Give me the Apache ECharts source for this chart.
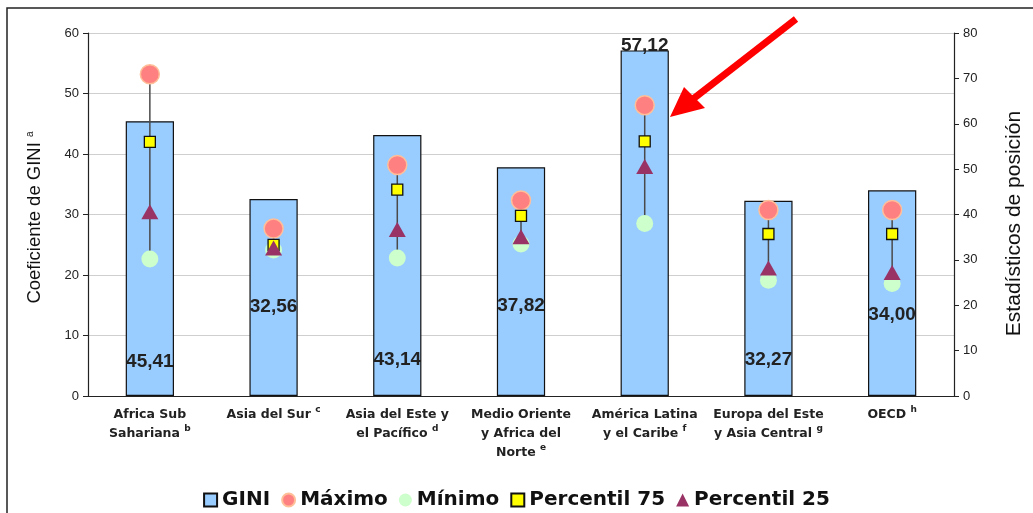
<!DOCTYPE html>
<html>
	<head>
		<meta charset="utf-8" />
		<title>Coeficiente de GINI por región</title>
		<style type="text/css">
			body,
			html,
			#main {
				width: 100%;
				height: 100%;
				overflow: hidden;
				margin: 0;
				background: #fff;
			}
		</style>
	</head>
	<body>
		<div id="main"></div>
		<script src="https://cdn.jsdelivr.net/npm/echarts@6/dist/echarts.min.js"></script>
		<script>
			// regiones (texto del eje x, con la letra de la nota)
			var regiones = [
				'Africa Sub\nSahariana {sup|b}',
				'Asia del Sur {sup|c}',
				'Asia del Este y\nel Pacífico {sup|d}',
				'Medio Oriente\ny Africa del\nNorte {sup|e}',
				'América Latina\ny el Caribe {sup|f}',
				'Europa del Este\ny Asia Central {sup|g}',
				'OECD {sup|h}'
			];
			// coeficiente de GINI (eje izquierdo)
			var gini = [45.41, 32.56, 43.14, 37.82, 57.12, 32.27, 34.0];
			// estadísticos de posición (eje derecho)
			var maximo = [70.9, 36.9, 50.9, 43.1, 64.1, 41.0, 41.0];
			var minimo = [30.2, 32.2, 30.4, 33.5, 38.0, 25.5, 24.8];
			var percentil75 = [56.0, 33.3, 45.5, 39.7, 56.1, 35.7, 35.7];
			var percentil25 = [40.6, 32.6, 36.7, 35.1, 50.6, 28.2, 27.2];
			var ticksIzq = [0, 60, 10];
			var ticksDer = [0, 80, 10];

			// donde va cada etiqueta de la barra (distancia desde abajo, o arriba)
			var etiquetaPos = [
				{ position: 'insideBottom', distance: 25 },
				{ position: 'insideBottom', distance: 80 },
				{ position: 'insideBottom', distance: 27 },
				{ position: 'insideBottom', distance: 81 },
				{ position: 'top', distance: -5 },
				{ position: 'insideBottom', distance: 27 },
				{ position: 'insideBottom', distance: 72 }
			];

			var fuente = 'Liberation Sans, Arial, sans-serif';
			var fuenteAncha = 'DejaVu Sans, Verdana, sans-serif';
			var myChart = echarts.init(document.getElementById('main'));

			var option = {
				animation: false,
				textStyle: { fontFamily: fuente },
				grid: { left: 88, right: 78, top: 33, bottom: 117 },
				legend: {
					top: 485,
					left: 'center',
					itemWidth: 13,
					itemHeight: 13,
					itemGap: 11,
					textStyle: { fontSize: 20, fontWeight: 'bold', color: '#111', fontFamily: fuenteAncha },
					data: [
						{ name: 'GINI', icon: 'rect' },
						{ name: 'Máximo', icon: 'circle' },
						{ name: 'Mínimo', icon: 'circle' },
						{ name: 'Percentil 75', icon: 'rect' },
						{ name: 'Percentil 25', icon: 'triangle' }
					]
				},
				xAxis: {
					type: 'category',
					data: regiones,
					axisLine: { lineStyle: { color: '#222', width: 1.2 } },
					axisTick: { length: 6, lineStyle: { color: '#222' } },
					axisLabel: {
						interval: 0,
						margin: 9,
						fontSize: 12.5,
						fontWeight: 'bold',
						fontFamily: fuenteAncha,
						color: '#222',
						lineHeight: 19,
						rich: {
							sup: { fontSize: 9, fontWeight: 'bold', fontFamily: fuenteAncha, verticalAlign: 'top', padding: [0, 0, 8, 0] }
						}
					}
				},
				yAxis: [
					{
						type: 'value',
						min: ticksIzq[0],
						max: ticksIzq[1],
						interval: ticksIzq[2],
						name: 'Coeficiente de GINI {sup|a}',
						nameLocation: 'middle',
						nameGap: 43,
						nameTextStyle: {
							fontSize: 18.5,
							color: '#111',
							padding: [0, 6, 0, 0],
							rich: { sup: { fontSize: 10, padding: [0, 0, 10, 0] } }
						},
						axisLine: { show: true, lineStyle: { color: '#222', width: 1.2 } },
						axisTick: { show: true, length: 5, lineStyle: { color: '#222' } },
						axisLabel: { fontSize: 13, color: '#222', margin: 9 },
						splitLine: { lineStyle: { color: '#cfcfcf', width: 1.2 } }
					},
					{
						type: 'value',
						min: ticksDer[0],
						max: ticksDer[1],
						interval: ticksDer[2],
						name: 'Estadísticos de posición',
						nameLocation: 'middle',
						nameGap: 50,
						nameTextStyle: { fontSize: 21, color: '#111', padding: [0, 18, 0, 0] },
						axisLine: { show: true, lineStyle: { color: '#222', width: 1.2 } },
						axisTick: { show: true, length: 5, lineStyle: { color: '#222' } },
						axisLabel: { fontSize: 13, color: '#222', margin: 9 },
						splitLine: { show: false }
					}
				],
				series: [
					{
						name: 'GINI',
						type: 'bar',
						yAxisIndex: 0,
						barWidth: '39%',
						itemStyle: { color: '#99ccff', borderColor: '#111', borderWidth: 1.2 },
						data: gini.map(function (v, i) {
							return {
								value: v,
								label: {
									show: true,
									position: etiquetaPos[i].position,
									distance: etiquetaPos[i].distance,
									fontSize: 19,
									fontWeight: 'bold',
									color: '#222',
									formatter: function (p) {
										return p.value.toFixed(2).replace('.', ',');
									}
								}
							};
						}),
						z: 1
					},
					{
						// linea de rango entre mínimo y máximo
						name: 'rango',
						type: 'custom',
						yAxisIndex: 1,
						silent: true,
						data: maximo.map(function (v, i) {
							return [i, v, minimo[i]];
						}),
						renderItem: function (params, api) {
							var a = api.coord([api.value(0), api.value(1)]);
							var b = api.coord([api.value(0), api.value(2)]);
							return {
								type: 'line',
								shape: { x1: a[0], y1: a[1], x2: b[0], y2: b[1] },
								style: { stroke: '#4a4a4a', lineWidth: 1.5 }
							};
						},
						z: 2
					},
					{
						name: 'Máximo',
						type: 'scatter',
						yAxisIndex: 1,
						symbol: 'circle',
						symbolSize: 19,
						itemStyle: { color: '#ff8080', borderColor: '#ffbf99', borderWidth: 1.5, opacity: 1 },
						data: maximo,
						z: 3
					},
					{
						name: 'Mínimo',
						type: 'scatter',
						yAxisIndex: 1,
						symbol: 'circle',
						symbolSize: 17,
						itemStyle: { color: '#ccffcc', opacity: 1 },
						data: minimo,
						z: 3
					},
					{
						name: 'Percentil 75',
						type: 'scatter',
						yAxisIndex: 1,
						symbol: 'rect',
						symbolSize: 11,
						itemStyle: { color: '#ffff00', borderColor: '#111', borderWidth: 1.3, opacity: 1 },
						data: percentil75,
						z: 4
					},
					{
						name: 'Percentil 25',
						type: 'scatter',
						yAxisIndex: 1,
						symbol: 'triangle',
						symbolSize: [17, 15],
						itemStyle: { color: '#993366', opacity: 1 },
						data: percentil25,
						z: 5
					}
				],
				graphic: [
					{
						// marco del gráfico
						type: 'rect',
						shape: { x: 7, y: 8, width: 1100, height: 600 },
						style: { fill: 'none', stroke: '#222', lineWidth: 1.5 },
						silent: true
					},
					{
						// flecha roja
						type: 'line',
						shape: { x1: 796, y1: 19, x2: 693, y2: 99 },
						style: { stroke: '#ff0000', lineWidth: 7 },
						z: 100
					},
					{
						type: 'polygon',
						shape: { points: [[670, 117], [705, 108], [684, 87]] },
						style: { fill: '#ff0000' },
						z: 100
					}
				]
			};
			myChart.setOption(option);
		</script>
	</body>
</html>
